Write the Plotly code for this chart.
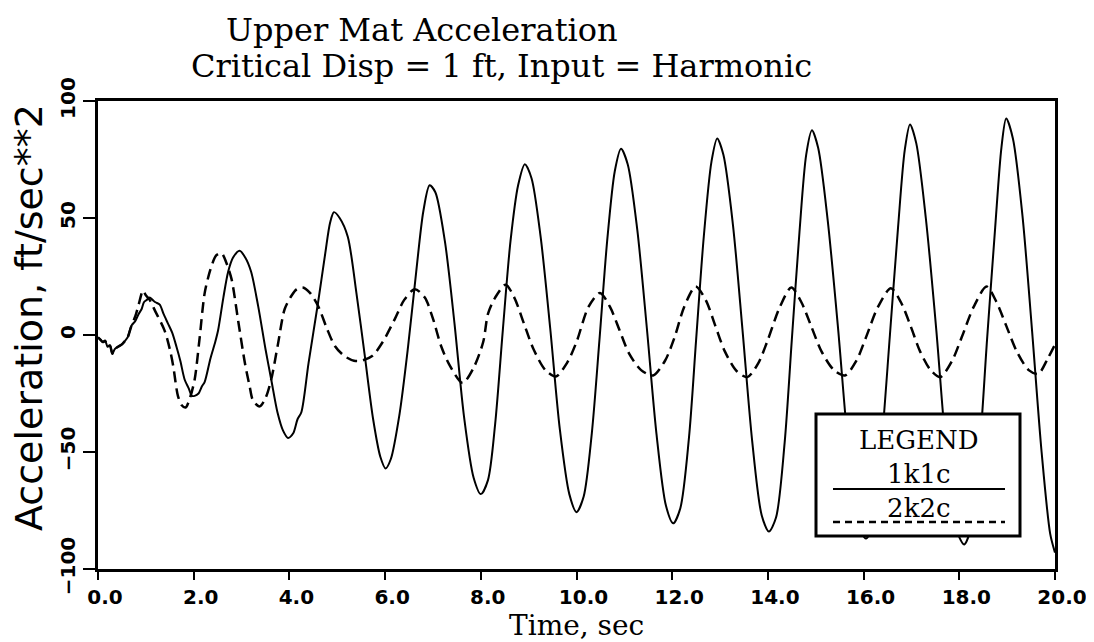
import plotly.graph_objects as go

# ---- data ----
time_1k1c = [0.00, 0.05, 0.10, 0.15, 0.20, 0.25, 0.30, 0.35, 0.42, 0.50, 0.56, 0.62, 0.70, 0.78, 0.85,
             0.91, 0.96, 1.02, 1.08, 1.14, 1.20, 1.29, 1.37, 1.46, 1.55, 1.64, 1.72, 1.81, 1.90, 1.96,
             2.02, 2.10, 2.17, 2.23, 2.35, 2.45, 2.51, 2.62, 2.72, 2.82, 2.96, 3.08, 3.20, 3.35, 3.50,
             3.62, 3.75, 3.87, 3.97, 4.08, 4.17, 4.25, 4.40, 4.60, 4.75, 4.85, 4.93, 5.05, 5.22, 5.40,
             5.57, 5.75, 5.90, 6.01, 6.12, 6.30, 6.48, 6.65, 6.80, 6.93, 7.05, 7.25, 7.45, 7.65, 7.85,
             8.00, 8.15, 8.30, 8.46, 8.62, 8.78, 8.92, 9.06, 9.25, 9.45, 9.65, 9.85, 10.00, 10.15, 10.32,
             10.48, 10.64, 10.80, 10.93, 11.07, 11.27, 11.47, 11.67, 11.87, 12.02, 12.17, 12.35, 12.50,
             12.66, 12.82, 12.94, 13.07, 13.27, 13.47, 13.67, 13.87, 14.02, 14.17, 14.35, 14.50, 14.66,
             14.80, 14.92, 15.05, 15.25, 15.47, 15.67, 15.87, 16.05, 16.20, 16.37, 16.55, 16.72, 16.86,
             16.97, 17.10, 17.30, 17.52, 17.72, 17.92, 18.10, 18.25, 18.42, 18.58, 18.75, 18.88, 18.98,
             19.12, 19.32, 19.52, 19.72, 19.90, 20.00]
accel_1k1c = [-1, -2, -3, -2.5, -5, -4.5, -8, -6, -5, -4, -2.6, -1, 4, 6, 9,
              11, 14, 15, 16, 15, 14, 13, 9, 5, 1, -5, -11, -19, -23, -26,
              -26, -25, -22, -20, -10, -3, 2, 16, 27, 33, 36, 33, 27, 12, -6,
              -19, -33, -41, -44, -42, -36, -33, -12, 14, 35, 48, 52.5, 50, 42, 18,
              -8, -36, -52, -57, -53, -34, -5, 27, 53, 64, 61, 40, 5, -35, -61,
              -68, -62, -38, 2, 40, 64, 73, 67, 42, 3, -40, -68, -75.7, -69, -42,
              -2, 40, 70, 79.6, 73, 45, 3, -42, -73, -80.5, -74, -44, -2,
              42, 74, 84, 77, 47, 2, -45, -77, -84, -78, -46, -2, 44,
              77, 87.5, 80, 49, 2, -46, -80, -87, -80, -48, 0, 46, 79,
              90, 82, 50, 2, -48, -82, -89.5, -82, -50, -2, 46, 80, 92.5,
              84, 51, 2, -50, -85, -93]

time_2k2c = [0.00, 0.05, 0.10, 0.15, 0.20, 0.25, 0.30, 0.35, 0.42, 0.50, 0.56, 0.62, 0.70, 0.78, 0.85,
             0.94, 1.00, 1.08, 1.20, 1.39, 1.50, 1.57, 1.67, 1.75, 1.83, 1.92, 2.02, 2.12, 2.23, 2.35,
             2.47, 2.58, 2.68, 2.79, 2.93, 3.07, 3.17, 3.24, 3.38, 3.50, 3.62, 3.76, 3.90, 4.05, 4.15,
             4.28, 4.43, 4.60, 4.78, 4.95, 5.15, 5.35, 5.50, 5.73, 5.95, 6.20, 6.40, 6.62, 6.83, 7.00,
             7.17, 7.35, 7.62, 7.85, 8.05, 8.15, 8.30, 8.52, 8.70, 8.90, 9.10, 9.35, 9.57, 9.80, 10.00,
             10.25, 10.49, 10.70, 10.90, 11.10, 11.35, 11.60, 11.85, 12.05, 12.25, 12.49, 12.70, 12.90,
             13.10, 13.35, 13.57, 13.80, 14.00, 14.25, 14.49, 14.70, 14.90, 15.12, 15.38, 15.61, 15.85,
             16.05, 16.30, 16.57, 16.78, 16.98, 17.18, 17.40, 17.60, 17.85, 18.05, 18.30, 18.57, 18.78,
             18.98, 19.20, 19.45, 19.65, 19.85, 20.00]
accel_2k2c = [-1, -2, -3, -2.5, -5, -4.5, -8, -6, -5, -4, -2.6, -1, 4, 8, 13,
              19, 17, 15, 10, 2, -6, -13, -26, -30, -31, -27, -19, -2, 18, 28,
              34, 35, 31, 24, 6, -12, -22, -28, -30.5, -27, -19, -4, 11, 17, 19.5,
              20.3, 18, 12.4, 3, -4.7, -9, -11, -11, -9, -3, 6.7, 15, 19.6, 16, 7,
              -4.7, -13, -20.5, -14, -3, 9, 16, 21.5, 16, 5, -6, -15, -17.7, -12, -3,
              12, 18, 12, 2, -8, -15, -17.3, -11, -1, 12, 20.7, 15, 4,
              -7, -15.5, -18, -12, -2, 12, 20.3, 14, 4, -7, -15, -17.3, -11,
              -1, 12, 20, 14, 4, -7, -15, -18, -11, -1, 12, 20.7, 14,
              4, -7, -15, -16.6, -10, -4]

x_tick_vals = [0, 2, 4, 6, 8, 10, 12, 14, 16, 18, 20]
x_tick_text = ["0.0", "2.0", "4.0", "6.0", "8.0", "10.0", "12.0", "14.0", "16.0", "18.0", "20.0"]
y_tick_vals = [-100, -50, 0, 50, 100]
y_tick_text = ["\u2212100", "\u221250", "0", "50", "100"]

series_names = ["1k1c", "2k2c"]
title_lines = ["Upper Mat Acceleration", "Critical Disp = 1 ft, Input = Harmonic"]
x_title = "Time, sec"
y_title = "Acceleration, ft/sec**2"
legend_title = "LEGEND"

# ---- figure ----
W, H = 1094, 642
L, R, T, B = 90, 47, 93, 81
PW, PH = W - L - R, H - T - B


def px(x):
    return (x - L) / PW


def py(y):
    return (H - B - y) / PH


SERIF = "DejaVu Serif"
SANS = "DejaVu Sans"

fig = go.Figure()
fig.add_trace(go.Scatter(x=time_1k1c, y=accel_1k1c, mode="lines", name=series_names[0],
                         line=dict(color="black", width=2, shape="spline", smoothing=0.8),
                         showlegend=False))
fig.add_trace(go.Scatter(x=time_2k2c, y=accel_2k2c, mode="lines", name=series_names[1],
                         line=dict(color="black", width=2.5, dash="11px,6px", shape="spline", smoothing=0.8),
                         showlegend=False))

axis_common = dict(showline=True, linewidth=3, linecolor="black", mirror=True,
                   showgrid=False, zeroline=False, ticks="outside", tickwidth=2,
                   tickcolor="black")

fig.update_layout(
    width=W, height=H,
    margin=dict(l=L, r=R, t=T, b=B),
    paper_bgcolor="white", plot_bgcolor="white",
    xaxis=dict(range=[0, 20], tickvals=x_tick_vals, ticktext=x_tick_text, ticklen=8,
               ticklabelshift=7,
               tickfont=dict(family=SANS, size=20, color="black", weight="bold"), **axis_common),
    yaxis=dict(range=[-100, 100], tickvals=y_tick_vals, ticktext=y_tick_text, ticklen=12,
               tickangle=-90, tickfont=dict(family=SANS, size=20, color="black", weight="bold"),
               **axis_common),
    showlegend=False,
)

ann = []
ann.append(dict(text=title_lines[0], x=px(216), y=py(22), xref="paper", yref="paper",
                xanchor="left", yanchor="middle", showarrow=False,
                font=dict(family=SERIF, size=32, color="black")))
ann.append(dict(text=title_lines[1], x=px(181), y=py(58), xref="paper", yref="paper",
                xanchor="left", yanchor="middle", showarrow=False,
                font=dict(family=SERIF, size=32, color="black")))
ann.append(dict(text=x_title, x=0.5, y=py(617), xref="paper", yref="paper",
                xanchor="center", yanchor="middle", showarrow=False,
                font=dict(family=SERIF, size=28, color="black")))
ann.append(dict(text=y_title, x=px(21), y=py(310), xref="paper", yref="paper",
                xanchor="center", yanchor="middle", showarrow=False, textangle=-90,
                font=dict(family=SANS, size=38, color="black")))

# legend box drawn as shapes and text
shapes = [
    dict(type="rect", xref="paper", yref="paper", x0=px(808), x1=px(1012), y0=py(528), y1=py(406),
         fillcolor="white", line=dict(color="black", width=3), layer="above"),
    dict(type="line", xref="paper", yref="paper", x0=px(825), x1=px(997), y0=py(481), y1=py(481),
         line=dict(color="black", width=2), layer="above"),
    dict(type="line", xref="paper", yref="paper", x0=px(825), x1=px(997), y0=py(514), y1=py(514),
         line=dict(color="black", width=2.5, dash="7px,5px"), layer="above"),
]
ann.append(dict(text="<br>".join([legend_title] + series_names), x=px(911), y=py(466),
                xref="paper", yref="paper", xanchor="center", yanchor="middle", align="center",
                showarrow=False, font=dict(family=SERIF, size=26, color="black")))

fig.update_layout(annotations=ann, shapes=shapes)
fig.write_html("out.html")
